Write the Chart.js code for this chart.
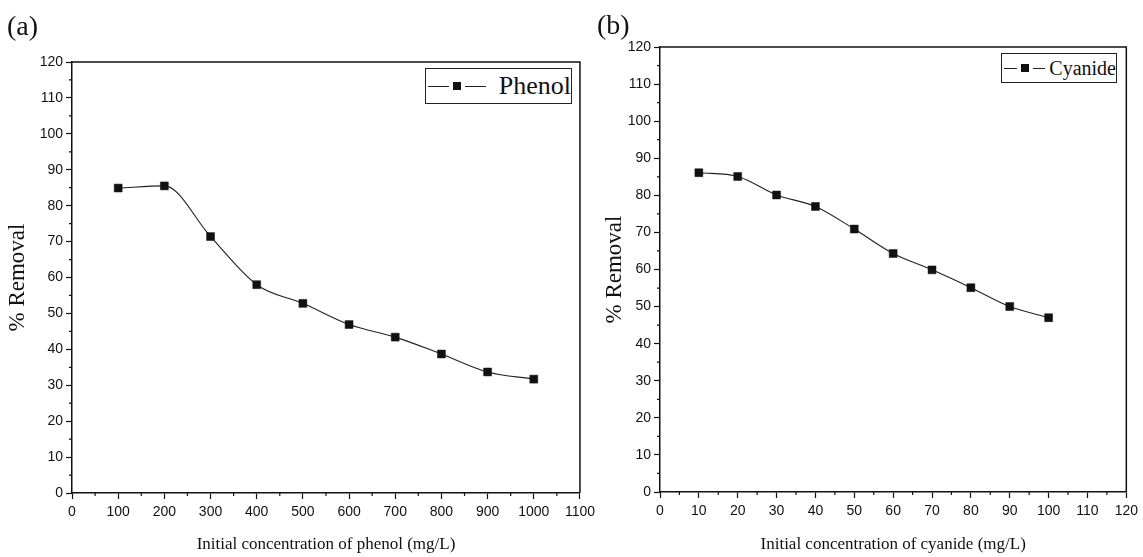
<!DOCTYPE html>
<html lang="en">
<head>
    <meta charset="UTF-8">
    <title>% Removal vs initial concentration</title>
    <script src="https://cdn.jsdelivr.net/npm/chart.js"></script>
    <style>
        body {
            margin: 0;
            background: #fff;
            width: 1143px;
            height: 557px;
            position: relative;
            overflow: hidden;
            font-family: 'Liberation Serif', 'Times New Roman', serif;
            color: #111;
        }
        .panel {
            position: absolute;
            top: 0;
            height: 557px;
        }
        #panelA { left: 0; width: 600px; }
        #panelB { left: 600px; width: 543px; }
        .tag {
            position: absolute;
            font-size: 28px;
            line-height: 1;
        }
        .legend {
            position: absolute;
            border: 1.3px solid #222;
            background: #fff;
            display: flex;
            align-items: center;
            box-sizing: border-box;
            white-space: nowrap;
        }
        .mk {
            position: relative;
            display: inline-block;
            height: 1px;
            background: #222;
        }
        .mk i {
            position: absolute;
            left: 50%;
            top: 50%;
            width: 8px;
            height: 8px;
            margin: -4px 0 0 -4px;
            background: #111;
        }
        .mk b {
            position: absolute;
            left: 50%;
            top: -2px;
            width: 16px;
            height: 5px;
            margin-left: -8px;
            background: #fff;
        }
    </style>
</head>
<body>
    <div class="panel" id="panelA"><canvas id="chartA"></canvas></div>
    <div class="panel" id="panelB"><canvas id="chartB"></canvas></div>

    <div class="tag" style="left:7px; top:12px;">(a)</div>
    <div class="tag" style="left:597px; top:11px;">(b)</div>

    <div class="legend" style="left:425px; top:68px; width:147px; height:36px; font-size:26px;">
        <span class="mk" style="width:58px; margin-left:2px;"><b></b><i></i></span>
        <span style="margin-left:13px;">Phenol</span>
    </div>
    <div class="legend" style="left:1001px; top:53px; width:116px; height:30px; font-size:20px;">
        <span class="mk" style="width:45px; margin-left:2px;"><b></b><i></i></span>
        <span style="margin-left:4px;">Cyanide</span>
    </div>

    <script>
        // panel (a) phenol
        const phenolConc = [100, 200, 300, 400, 500, 600, 700, 800, 900, 1000];
        const phenolRemoval = [84.9, 85.5, 71.4, 58.0, 52.8, 46.9, 43.4, 38.7, 33.7, 31.7];

        // panel (b) cyanide
        const cyanideConc = [10, 20, 30, 40, 50, 60, 70, 80, 90, 100];
        const cyanideRemoval = [86.1, 85.1, 80.1, 77.0, 70.9, 64.3, 59.9, 55.1, 50.0, 47.0];

        const removalTicks = { min: 0, max: 120, step: 10 };
        const phenolTicks = { min: 0, max: 1100, step: 100 };
        const cyanideTicks = { min: 0, max: 120, step: 10 };

        const ink = '#111';
        const tickFont = { family: "'Liberation Sans', Arial, sans-serif", size: 14 };
        const titleFont = { family: "'Liberation Serif', 'Times New Roman', serif" };

        // box (top + right) and minor ticks
        const framePlugin = {
            id: 'frame',
            afterDraw(chart) {
                const ctx = chart.ctx;
                const a = chart.chartArea;
                ctx.save();
                ctx.strokeStyle = ink;
                ctx.lineWidth = 1.5;
                ctx.beginPath();
                ctx.moveTo(a.left, a.top);
                ctx.lineTo(a.right, a.top);
                ctx.lineTo(a.right, a.bottom);
                ctx.stroke();

                ctx.lineWidth = 1.2;
                ['x', 'y'].forEach(id => {
                    const s = chart.scales[id];
                    const step = s.options.ticks.stepSize;
                    ctx.beginPath();
                    for (let v = s.min + step / 2; v < s.max; v += step) {
                        const p = s.getPixelForValue(v);
                        if (id === 'x') {
                            ctx.moveTo(p, a.bottom);
                            ctx.lineTo(p, a.bottom + 3);
                        } else {
                            ctx.moveTo(a.left, p);
                            ctx.lineTo(a.left - 3, p);
                        }
                    }
                    ctx.stroke();
                });
                ctx.restore();
            }
        };

        function makeChart(canvasId, xs, ys, xt, xTitle, geom) {
            const ctx = document.getElementById(canvasId).getContext('2d');
            return new Chart(ctx, {
                type: 'line',
                data: {
                    datasets: [{
                        data: xs.map((x, i) => ({ x: x, y: ys[i] })),
                        borderColor: '#222',
                        borderWidth: 1.1,
                        cubicInterpolationMode: 'monotone',
                        pointStyle: 'rect',
                        pointRadius: 5.6,
                        pointBackgroundColor: ink,
                        pointBorderColor: ink,
                        pointBorderWidth: 0.5
                    }]
                },
                options: {
                    responsive: true,
                    maintainAspectRatio: false,
                    animation: false,
                    events: [],
                    layout: {
                        padding: { top: geom.top, right: geom.right, left: 0, bottom: 0 }
                    },
                    plugins: {
                        legend: { display: false },
                        tooltip: { enabled: false }
                    },
                    scales: {
                        x: {
                            type: 'linear',
                            min: xt.min,
                            max: xt.max,
                            afterFit: s => { s.height = geom.xHeight; },
                            border: { color: ink, width: 1.5 },
                            grid: { drawOnChartArea: false, tickLength: 6, tickColor: ink, tickWidth: 1.2 },
                            ticks: {
                                stepSize: xt.step,
                                autoSkip: false,
                                maxRotation: 0,
                                color: ink,
                                font: tickFont,
                                padding: 5,
                                callback: v => String(v)
                            },
                            title: {
                                display: true,
                                text: xTitle,
                                color: ink,
                                font: Object.assign({ size: 17 }, titleFont),
                                padding: { top: 0, bottom: 2 }
                            }
                        },
                        y: {
                            min: removalTicks.min,
                            max: removalTicks.max,
                            afterFit: s => { s.width = geom.yWidth; },
                            border: { color: ink, width: 1.5 },
                            grid: { drawOnChartArea: false, tickLength: 6, tickColor: ink, tickWidth: 1.2 },
                            ticks: {
                                stepSize: removalTicks.step,
                                autoSkip: false,
                                color: ink,
                                font: tickFont,
                                padding: 3,
                                callback: v => String(v)
                            },
                            title: {
                                display: true,
                                text: '% Removal',
                                color: ink,
                                font: Object.assign({ size: 23 }, titleFont),
                                padding: { top: geom.yTitlePad, bottom: 0 }
                            }
                        }
                    }
                },
                plugins: [framePlugin]
            });
        }

        makeChart('chartA', phenolConc, phenolRemoval, phenolTicks,
            'Initial concentration of phenol (mg/L)',
            { top: 62, right: 18, xHeight: 64, yWidth: 72, yTitlePad: 4 });

        makeChart('chartB', cyanideConc, cyanideRemoval, cyanideTicks,
            'Initial concentration of cyanide (mg/L)',
            { top: 47, right: 13, xHeight: 65, yWidth: 60, yTitlePad: 1 });
    </script>
</body>
</html>
